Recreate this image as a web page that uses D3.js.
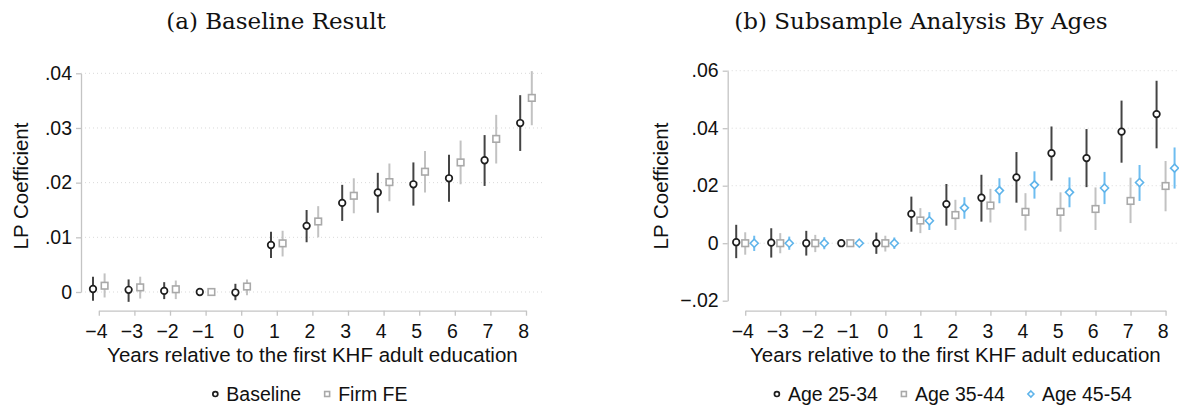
<!DOCTYPE html>
<html>
<head>
<meta charset="utf-8">
<script src="https://cdn.jsdelivr.net/npm/d3@7"></script>
<style>
  body { margin: 0; background: #fff; }
  svg { display: block; }
</style>
</head>
<body>
<svg width="1179" height="407"></svg>
<script>
// event time
var years = [-4, -3, -2, -1, 0, 1, 2, 3, 4, 5, 6, 7, 8];

// panel (a): point estimate, lower and upper CI (-1 is the reference year)
var baseEst = [0.00055, 0.0004, 0.0002, 0, -0.0001, 0.0086, 0.0121, 0.0163, 0.0182, 0.0197, 0.0208, 0.0241, 0.0309];
var baseLo  = [-0.0016, -0.0018, -0.0013, null, -0.0015, 0.0062, 0.0091, 0.0130, 0.0145, 0.0158, 0.0165, 0.0194, 0.0258];
var baseHi  = [0.0028, 0.0023, 0.0018, null, 0.0015, 0.0110, 0.0150, 0.0196, 0.0218, 0.0237, 0.0251, 0.0287, 0.0360];

var firmEst = [0.00115, 0.00085, 0.0005, 0, 0.0010, 0.0089, 0.0129, 0.0176, 0.0201, 0.0220, 0.0237, 0.0280, 0.0355];
var firmLo  = [-0.0010, -0.0012, -0.0013, null, -0.0006, 0.0065, 0.0100, 0.0144, 0.0166, 0.0182, 0.0197, 0.0235, 0.0305];
var firmHi  = [0.0034, 0.0028, 0.0021, null, 0.0023, 0.0112, 0.0157, 0.0208, 0.0235, 0.0258, 0.0277, 0.0324, 0.0404];

// panel (b): by age group
var age1Est = [0.00035, 0.0002, 0, 0, 0, 0.0102, 0.0136, 0.0158, 0.0229, 0.0313, 0.0296, 0.0388, 0.0449];
var age1Lo  = [-0.0052, -0.0050, -0.0043, null, -0.0037, 0.0040, 0.0061, 0.0075, 0.0141, 0.0218, 0.0195, 0.0280, 0.0330];
var age1Hi  = [0.0064, 0.0052, 0.0043, null, 0.0037, 0.0162, 0.0206, 0.0238, 0.0317, 0.0406, 0.0397, 0.0496, 0.0565];

var age2Est = [0, 0, 0, 0, 0, 0.0079, 0.0098, 0.0131, 0.0109, 0.0109, 0.0119, 0.0147, 0.0199];
var age2Lo  = [-0.0040, -0.0035, -0.0031, null, -0.0029, 0.0035, 0.0046, 0.0072, 0.0044, 0.0040, 0.0046, 0.0070, 0.0111];
var age2Hi  = [0.0038, 0.0035, 0.0029, null, 0.0026, 0.0122, 0.0151, 0.0189, 0.0174, 0.0177, 0.0194, 0.0228, 0.0286];

var age3Est = [0, 0, 0, 0, 0, 0.0078, 0.0123, 0.0183, 0.0203, 0.0177, 0.0192, 0.0211, 0.0261];
var age3Lo  = [-0.0027, -0.0023, -0.0021, null, -0.0020, 0.0046, 0.0085, 0.0139, 0.0155, 0.0125, 0.0136, 0.0147, 0.0190];
var age3Hi  = [0.0026, 0.0023, 0.0021, null, 0.0020, 0.0108, 0.0160, 0.0226, 0.0250, 0.0229, 0.0248, 0.0272, 0.0333];

var ticksA = [0, 0.01, 0.02, 0.03, 0.04];
var ticksB = [-0.02, 0, 0.02, 0.04, 0.06];

var svg = d3.select("svg");
var sans = "Liberation Sans, Arial, sans-serif";
var serif = "DejaVu Serif, serif";

var styles = {
  circle:  {stroke: "#1e1e1e", ci: "#444444"},
  square:  {stroke: "#a9a9a9", ci: "#c2c2c2"},
  diamond: {stroke: "#5fb4ea", ci: "#6ebdf0"}
};

function fmt(d) {
  if (d === 0) return "0";
  return d3.format(".2f")(d).replace("0.", ".");
}

function marker(g, shape, cx, cy, s) {
  var st = styles[shape];
  if (shape == "circle") {
    g.append("circle").attr("cx", cx).attr("cy", cy).attr("r", 3.3 * s)
      .attr("fill", "#fff").attr("stroke", st.stroke).attr("stroke-width", 1.7);
  } else if (shape == "square") {
    g.append("rect").attr("x", cx - 3.3 * s).attr("y", cy - 3.3 * s)
      .attr("width", 6.6 * s).attr("height", 6.6 * s)
      .attr("fill", "#fff").attr("stroke", st.stroke).attr("stroke-width", 1.6);
  } else {
    var r = 4 * s;
    g.append("path")
      .attr("d", `M${cx},${cy - r}L${cx + r},${cy}L${cx},${cy + r}L${cx - r},${cy}Z`)
      .attr("fill", "#fff").attr("stroke", st.stroke).attr("stroke-width", 1.6);
  }
}

function drawPanel(p) {
  var g = svg.append("g");
  var x = d3.scaleLinear().domain([-4.5, 8.5]).range(p.xRange);
  var y = d3.scaleLinear().domain(d3.extent(p.ticks)).range(p.yRange);

  // grid
  g.append("g").selectAll("line")
    .data(p.ticks.filter(t => t > d3.min(p.ticks) || p.gridBottom))
    .enter().append("line")
    .attr("x1", p.xRange[0]).attr("x2", Math.min(p.xRange[1], 1179))
    .attr("y1", d => y(d)).attr("y2", d => y(d))
    .attr("stroke", "#d9d9d9").attr("stroke-width", 1)
    .attr("stroke-dasharray", "1,3");

  // x axis only spans the event window
  var xa = x.copy().domain([-4, 8]).range([x(-4), x(8)]);
  var gx = g.append("g").attr("transform", `translate(0,${p.xAxisY})`)
    .call(d3.axisBottom(xa).tickValues(years).tickSize(5).tickSizeOuter(0).tickPadding(8).tickFormat(d3.format("d")));
  var gy = g.append("g").attr("transform", `translate(${p.xRange[0]},0)`)
    .call(d3.axisLeft(y).tickValues(p.ticks).tickSize(5).tickSizeOuter(0).tickPadding(4).tickFormat(fmt));
  [gx, gy].forEach(function (a) {
    a.selectAll("path, line").attr("stroke", "#c4c4c4").attr("stroke-width", 1.3);
    a.selectAll("text").attr("fill", "#111").style("font-family", sans).style("font-size", "19.5px");
  });
  gx.selectAll("text").attr("dx", "-0.15em");

  // estimates
  p.series.forEach(function (s, si) {
    var sg = g.append("g");
    var st = styles[s.shape];
    years.forEach(function (yr, i) {
      var cx = x(yr) + p.offsets[si];
      if (s.lo[i] != null) {
        sg.append("line").attr("x1", cx).attr("x2", cx)
          .attr("y1", y(s.lo[i])).attr("y2", y(s.hi[i]))
          .attr("stroke", st.ci).attr("stroke-width", 2);
      }
      marker(sg, s.shape, cx, y(s.est[i]), 1);
    });
  });

  var axisMid = (x(-4) + x(8)) / 2;

  // titles
  svg.append("text").attr("x", p.titleX).attr("y", 29).attr("text-anchor", "middle")
    .style("font-family", serif).style("font-size", "23px").attr("fill", "#111")
    .text(p.title);

  svg.append("text").attr("x", axisMid).attr("y", 362).attr("text-anchor", "middle")
    .style("font-family", sans).style("font-size", "20.5px").attr("fill", "#111")
    .text("Years relative to the first KHF adult education");

  svg.append("text")
    .attr("transform", `translate(${p.yTitleX},186) rotate(-90)`)
    .attr("text-anchor", "middle").attr("dominant-baseline", "central")
    .style("font-family", sans).style("font-size", "20.5px").attr("fill", "#111")
    .text("LP Coefficient");

  // legend
  var lg = svg.append("g");
  var cursor = 0;
  p.series.forEach(function (s, si) {
    var ig = lg.append("g").attr("transform", `translate(${cursor},0)`);
    marker(ig, s.shape, 3, 0, 0.75);
    var t = ig.append("text").attr("x", 14).attr("y", 7)
      .style("font-family", sans).style("font-size", "19.5px").attr("fill", "#111")
      .text(s.name);
    cursor += 14 + t.node().getComputedTextLength() + 23;
  });
  var total = cursor - 23;
  lg.attr("transform", `translate(${axisMid - 2.5 - total / 2},394)`);
}

drawPanel({
  title: "(a) Baseline Result",
  titleX: 276,
  yTitleX: 20,
  xRange: [81, 81 + 13 * 35.6],
  yRange: [292, 73.3],
  xAxisY: 310.7,
  ticks: ticksA,
  gridBottom: true,
  offsets: [-5.8, 5.8],
  series: [
    {name: "Baseline", shape: "circle", est: baseEst, lo: baseLo, hi: baseHi},
    {name: "Firm FE", shape: "square", est: firmEst, lo: firmLo, hi: firmHi}
  ]
});

drawPanel({
  title: "(b) Subsample Analysis By Ages",
  titleX: 921,
  yTitleX: 660,
  xRange: [727.7, 727.7 + 13 * 35.03],
  yRange: [300.7, 70.7],
  xAxisY: 310.7,
  ticks: ticksB,
  gridBottom: false,
  offsets: [-9, 0, 9],
  series: [
    {name: "Age 25-34", shape: "circle", est: age1Est, lo: age1Lo, hi: age1Hi},
    {name: "Age 35-44", shape: "square", est: age2Est, lo: age2Lo, hi: age2Hi},
    {name: "Age 45-54", shape: "diamond", est: age3Est, lo: age3Lo, hi: age3Hi}
  ]
});
</script>
</body>
</html>
